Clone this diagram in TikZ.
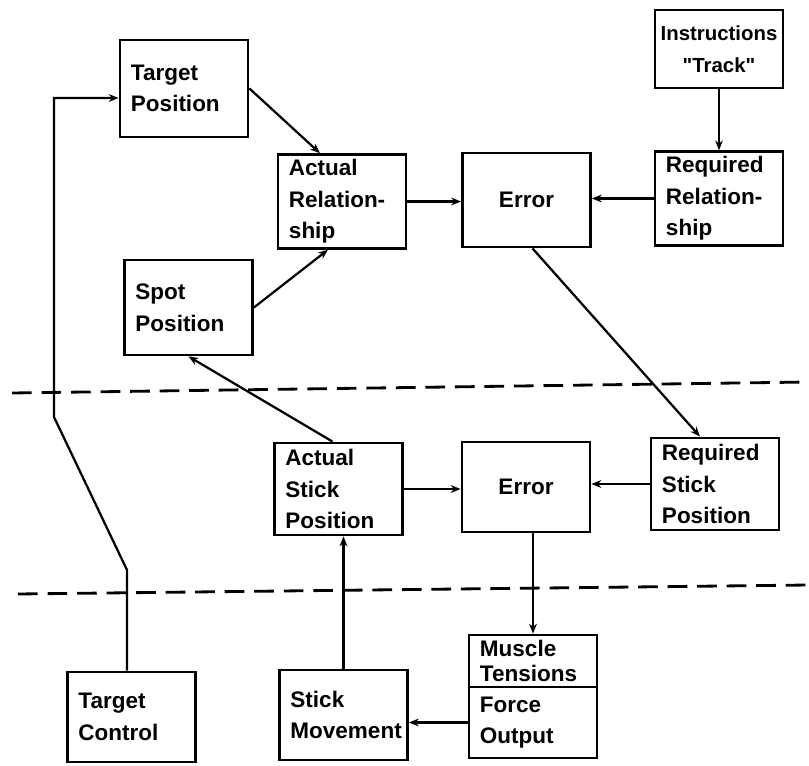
\documentclass[tikz,border=0pt]{standalone}
\usepackage{fontspec}
\setmainfont{Liberation Sans}
\usetikzlibrary{arrows.meta, calc}

\begin{document}
\begin{tikzpicture}[
    x=0.025cm, y=-0.025cm,
    >={Stealth[length=7pt, width=5.5pt]},
    box/.style={draw, line width=2pt, font=\fontsize{16}{22.5}\selectfont\bfseries,
        text width=2.65cm, inner xsep=0.275cm, align=left, minimum height=#1},
    box/.default=2.325cm,
    link/.style={->, line width=1.6pt},
    sepline/.style={line width=2pt, dash pattern=on 14pt off 7pt}
]
\useasboundingbox (0,0) rectangle (809,766);

% Upper level: relationship between target and spot
\node[box=2.425cm] (tpos) at (184,88.5) {Target\\Position};
\node[box] (arel) at (342,201.5) {Actual\\Relation-\\ship};
\node[box=2.375cm] (spos) at (188.5,307.5) {Spot\\Position};
\node[box=2.35cm, align=center] (err1) at (526.5,200) {Error};
\node[box=1.95cm, font=\fontsize{14.5}{23}\selectfont\bfseries, align=center,
      text width=3cm, inner xsep=0.1cm] (instr) at (719,49)
      {Instructions\\\textquotedbl Track\textquotedbl};
\node[box] (rrel) at (719,198.5) {Required\\Relation-\\ship};

% Middle level: stick position
\node[box=2.3cm] (asp) at (338.5,489) {Actual\\Stick\\Position};
\node[box=2.25cm, align=center] (err2) at (526,487) {Error};
\node[box=2.3cm] (rsp) at (715,484) {Required\\Stick\\Position};

% Lower level: control and force
\node[box=2.25cm] (tctl) at (131.5,717) {Target\\Control};
\node[box=2.25cm] (smov) at (343.5,715) {Stick\\Movement};
\node[box=1.3cm, font=\fontsize{16}{18}\selectfont\bfseries] (mten) at (533,661) {Muscle\\Tensions};
\node[box=1.775cm] (fout) at (533,722.5) {Force\\Output};

% Level separators
\coordinate (d1) at (12,393);
\coordinate (d2) at (809,382);
\coordinate (d3) at (18,594);
\coordinate (d4) at (809,585);
\draw[sepline] (d1) -- (d2);
\draw[sepline] (d3) -- (d4);

% Target control feeds the target position
\coordinate (k1) at (127,570);
\coordinate (k2) at (54,417);
\coordinate (k3) at (54,98);
\draw[link] (k1 |- tctl.north) -- (k1) -- (k2) -- (k3) -- (k3 -| tpos.west);

% Arrows
\draw[link] (tpos.east) -- ($(arel.north)+(-22,0)$);
\draw[link] (spos.east) -- ($(arel.south)+(-14,0)$);
\draw[link] (arel.east) -- (arel.east -| err1.west);
\draw[link] (rrel.west) -- (rrel.west -| err1.east);
\draw[link] (instr) -- (rrel);
\draw[link] ($(err1.south)+(6,0)$) -- ($(rsp.north)+(-15,0)$);
\draw[link] ($(asp.north)+(-6,0)$) -- (spos.south);
\draw[link] (asp.east) -- (asp.east -| err2.west);
\draw[link] (rsp.west) -- (rsp.west -| err2.east);
\draw[link] (err2.south -| mten.north) -- (mten.north);
\draw[link] (fout.west) -- (fout.west -| smov.east);
\draw[link] (smov.north) -- (smov.north |- asp.south);

\end{tikzpicture}
\end{document}
